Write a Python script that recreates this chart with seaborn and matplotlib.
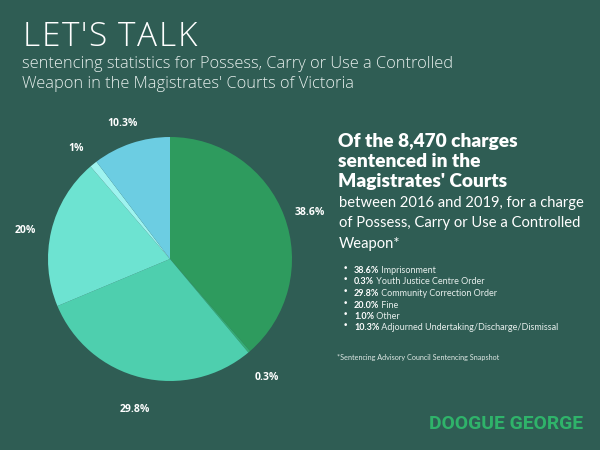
import matplotlib
matplotlib.use("Agg")
import matplotlib.pyplot as plt
import seaborn as sns

# ---- data ----
categories = ["Imprisonment", "Youth Justice Centre Order", "Community Correction Order",
              "Fine", "Other", "Adjourned Undertaking/Discharge/Dismissal"]
shares = [38.6, 0.3, 29.8, 20.0, 1.0, 10.3]
pie_labels = ["38.6%", "0.3%", "29.8%", "20%", "1%", "10.3%"]
legend_pcts = ["38.6%", "0.3%", "29.8%", "20.0%", "1.0%", "10.3%"]
colors = ["#2e9b5e", "#35ad74", "#4ecfae", "#6de3d1", "#9ef3ef", "#6ccde2"]

title = "LET'S TALK"
subtitle = ["sentencing statistics for Possess, Carry or Use a Controlled",
            "Weapon in the Magistrates' Courts of Victoria"]
heading = ["Of the 8,470 charges", "sentenced in the", "Magistrates' Courts"]
body = ["between 2016 and 2019, for a charge",
        "of Possess, Carry or Use a Controlled", "Weapon*"]
footnote = "*Sentencing Advisory Council Sentencing Snapshot"
logo = "DOOGUE GEORGE"

BG = "#2f5d54"
sns.set_theme(style="white")
plt.rcParams["font.family"] = ["Open Sans", "DejaVu Sans"]

fig = plt.figure(figsize=(6, 4.5), dpi=100)
fig.patch.set_facecolor(BG)

# background/text axes in pixel coordinates
bg = fig.add_axes([0, 0, 1, 1])
bg.set_xlim(0, 600)
bg.set_ylim(450, 0)
bg.axis("off")
bg.set_facecolor(BG)

# ---- pie ----
cx, cy, r = 170, 259, 122
ax = fig.add_axes([(cx - r) / 600, (450 - cy - r) / 450, 2 * r / 600, 2 * r / 450])
ax.set_facecolor("none")
wedges, texts = ax.pie(shares, colors=colors, startangle=90, counterclock=False,
                       labels=pie_labels, labeldistance=1.22,
                       wedgeprops=dict(linewidth=0),
                       textprops=dict(color="white", fontsize=7.5, fontweight="bold",
                                      family=["Open Sans", "DejaVu Sans"]))
for t in texts:
    t.set_horizontalalignment("center")
    t.set_verticalalignment("top")
ax.set_xlim(-1, 1)
ax.set_ylim(-1, 1)
ax.axis("off")

# ---- title with letter spacing ----
prev = bg.text(23, 46, title[0], color="white", fontsize=24, fontweight="light",
               va="baseline", ha="left")
for ch in title[1:]:
    prev = bg.annotate(ch, xy=(1, 0), xycoords=prev, xytext=(1.1, 0),
                       textcoords="offset points", color="white", fontsize=24,
                       fontweight="light", va="bottom", ha="left")

for i, line in enumerate(subtitle):
    bg.text(22, 68 + i * 20, line, color="#e8f0ee", fontsize=11.8, fontweight="light",
            va="baseline", ha="left")

# ---- right panel ----
for i, line in enumerate(heading):
    bg.text(338, 147 + i * 20, line, color="white", fontsize=13.8, fontweight="heavy",
            family=["Lato", "DejaVu Sans"], va="baseline", ha="left")
for i, line in enumerate(body):
    bg.text(339, 207 + i * 20.5, line, color="white", fontsize=10.6,
            family=["Lato", "DejaVu Sans"], va="baseline", ha="left")

for i, (p, c) in enumerate(zip(legend_pcts, categories)):
    y = 273 + i * 11.5
    bg.text(345, y - 2, "•", color="white", fontsize=6.5, va="baseline", ha="center",
            family=["DejaVu Sans"])
    t = bg.text(354, y, p, color="white", fontsize=6.5, fontweight="bold",
                family=["Lato", "DejaVu Sans"], va="baseline", ha="left")
    bg.annotate(" " + c, xy=(1, 0), xycoords=t, color="#e6eeec", fontsize=6.5,
                family=["Lato", "DejaVu Sans"], va="bottom", ha="left")

bg.text(337, 360, footnote, color="#dfe8e5", fontsize=5.2,
        family=["Lato", "DejaVu Sans"], va="baseline", ha="left")

bg.text(429, 429, logo, color="#2fb36a", fontsize=13.9, fontweight="bold",
        family=["Roboto", "DejaVu Sans"], va="baseline", ha="left")

fig.savefig("out.png", dpi=100, facecolor=BG)
